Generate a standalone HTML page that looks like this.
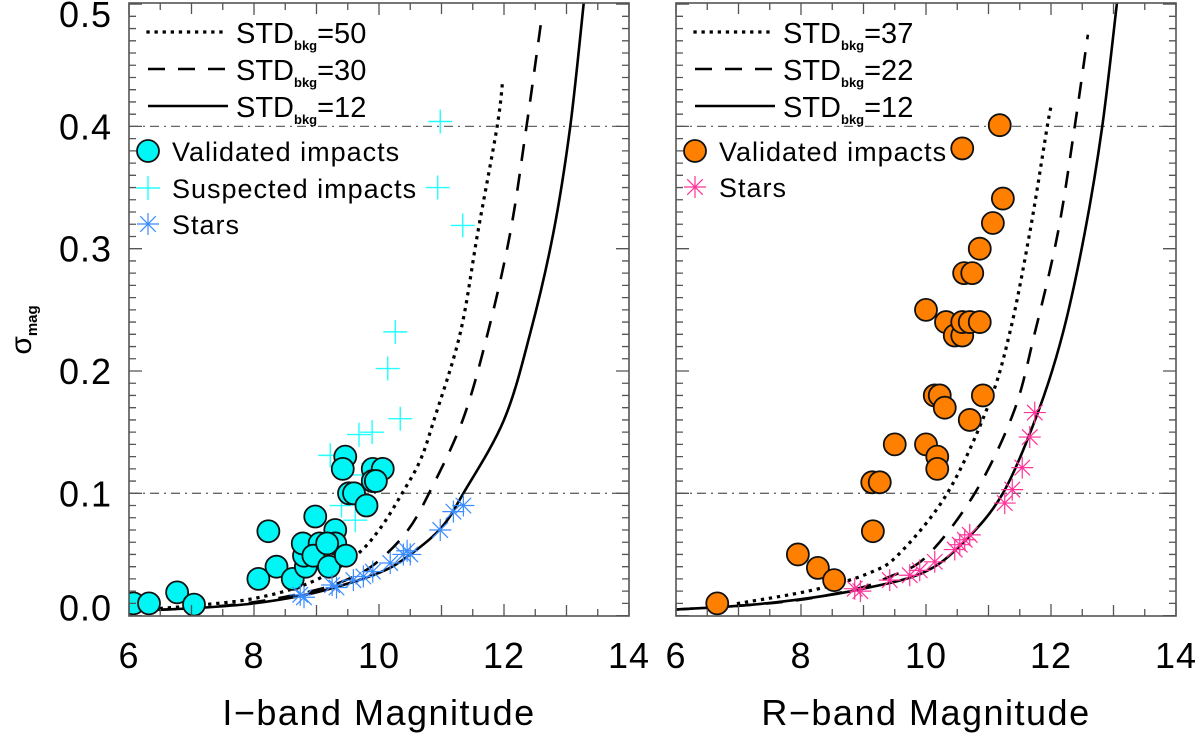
<!DOCTYPE html>
<html><head><meta charset="utf-8">
<style>
html,body{margin:0;padding:0;background:#fff;}
svg{display:block;font-family:"Liberation Sans",sans-serif;}
</style></head>
<body>
<svg id="chart" width="1200" height="734" viewBox="0 0 1200 734" xmlns="http://www.w3.org/2000/svg">
<g id="root"></g>
</svg>
<script>
// ---------------- data ----------------
const xTicks = [6, 8, 10, 12, 14];
const yTicks = [0.0, 0.1, 0.2, 0.3, 0.4, 0.5];
const yTickLabels = ["0.0", "0.1", "0.2", "0.3", "0.4", "0.5"];
const refLevels = [0.1, 0.4];

// left panel (I-band) model curves
const solidL_m = [6, 7, 8, 9, 10, 10.5, 11, 11.35, 12, 12.42, 12.79, 13.06, 13.28];
const solidL_s = [0.004, 0.006, 0.010, 0.019, 0.035, 0.050, 0.072, 0.100, 0.160, 0.231, 0.313, 0.400, 0.503];
const dashedL_m = [6, 7, 8, 9, 9.6, 10, 10.45, 10.8, 11.34, 11.74, 12.1, 12.36, 12.59];
const dashedL_s = [0.004, 0.006, 0.011, 0.021, 0.032, 0.045, 0.069, 0.100, 0.160, 0.231, 0.313, 0.400, 0.484];
const dottedL_m = [6, 7, 8, 8.9, 9.6, 10, 10.37, 10.66, 10.88, 11.3, 11.58, 11.89, 11.98];
const dottedL_s = [0.004, 0.008, 0.014, 0.027, 0.048, 0.070, 0.100, 0.127, 0.160, 0.231, 0.313, 0.400, 0.438];

// right panel (R-band) model curves
const solidR_m = [6, 7, 7.94, 8.9, 9.95, 10.6, 11.23, 11.79, 12.19, 12.54, 12.82, 13.06];
const solidR_s = [0.005, 0.008, 0.013, 0.021, 0.035, 0.060, 0.100, 0.166, 0.231, 0.313, 0.400, 0.503];
const dashedR_m = [6, 7, 8, 8.9, 9.38, 10, 10.78, 11.4, 11.74, 12.11, 12.38, 12.59];
const dashedR_s = [0.005, 0.008, 0.013, 0.022, 0.031, 0.048, 0.100, 0.166, 0.231, 0.313, 0.400, 0.475];
const dottedR_m = [7, 8.2, 9.1, 9.58, 10.34, 10.99, 11.34, 11.66, 11.94, 12.0];
const dottedR_s = [0.010, 0.021, 0.035, 0.051, 0.100, 0.171, 0.231, 0.313, 0.400, 0.416];

// left panel points
const validI_m = [6.07, 6.32, 6.77, 7.04, 8.07, 8.36, 8.23, 8.62, 8.83, 8.80, 8.78, 8.98, 9.05, 8.95, 9.20, 9.30, 9.30, 9.47, 9.46, 9.42, 9.52, 9.60, 9.80, 9.90, 10.06, 9.90, 9.95, 9.17];
const validI_s = [0.010, 0.010, 0.019, 0.009, 0.030, 0.040, 0.069, 0.030, 0.040, 0.049, 0.059, 0.081, 0.059, 0.049, 0.040, 0.070, 0.059, 0.049, 0.130, 0.120, 0.100, 0.100, 0.090, 0.120, 0.120, 0.110, 0.110, 0.059];
const suspI_m = [10.26, 10.14, 10.34, 9.89, 9.68, 9.22, 9.62, 9.40, 9.73, 10.98, 10.94, 11.34];
const suspI_s = [0.232, 0.202, 0.161, 0.150, 0.148, 0.131, 0.078, 0.090, 0.115, 0.404, 0.350, 0.319];
const starsI_m = [8.74, 8.80, 9.25, 9.32, 9.59, 9.75, 9.90, 10.18, 10.39, 10.50, 10.45, 10.98, 11.19, 11.35];
const starsI_s = [0.017, 0.015, 0.025, 0.023, 0.029, 0.032, 0.036, 0.043, 0.050, 0.050, 0.053, 0.070, 0.085, 0.090];

// right panel points
const validR_m = [6.66, 7.95, 8.27, 8.53, 9.15, 9.14, 9.26, 9.50, 10.00, 10.18, 10.18, 10.14, 10.22, 10.30, 10.70, 10.91, 10.00, 10.32, 10.46, 10.58, 10.58, 10.70, 10.86, 10.61, 10.74, 10.86, 11.07, 11.23, 10.58, 11.18];
const validR_s = [0.010, 0.050, 0.039, 0.029, 0.069, 0.109, 0.109, 0.140, 0.140, 0.130, 0.120, 0.180, 0.180, 0.170, 0.160, 0.180, 0.250, 0.240, 0.229, 0.229, 0.240, 0.240, 0.240, 0.280, 0.280, 0.300, 0.321, 0.341, 0.382, 0.401];
const starsR_m = [8.86, 8.95, 9.42, 9.74, 9.90, 10.14, 10.46, 10.54, 10.62, 10.70, 11.26, 11.38, 11.54, 11.66, 11.74];
const starsR_s = [0.022, 0.020, 0.029, 0.033, 0.037, 0.044, 0.054, 0.058, 0.062, 0.066, 0.092, 0.103, 0.121, 0.146, 0.166];

// ---------------- drawing ----------------
const NS = "http://www.w3.org/2000/svg";
const root = document.getElementById("root");
const TOP = 3, BOT = 616, Y0 = 615.6, YS = 1223, XS = 62.5;
function yScale(s){ return Y0 - s*YS; }
function mk(tag, parent, attrs){
  const e = document.createElementNS(NS, tag);
  for (const k in attrs) e.setAttribute(k, attrs[k]);
  parent.appendChild(e);
  return e;
}
function smoothPath(pts){
  let d = "M" + pts[0][0].toFixed(2) + "," + pts[0][1].toFixed(2);
  for (let i=0;i<pts.length-1;i++){
    const p0 = pts[Math.max(0,i-1)], p1 = pts[i], p2 = pts[i+1], p3 = pts[Math.min(pts.length-1,i+2)];
    const c1x = p1[0] + (p2[0]-p0[0])/6, c1y = p1[1] + (p2[1]-p0[1])/6;
    const c2x = p2[0] - (p3[0]-p1[0])/6, c2y = p2[1] - (p3[1]-p1[1])/6;
    d += " C" + c1x.toFixed(2)+","+c1y.toFixed(2)+" "+c2x.toFixed(2)+","+c2y.toFixed(2)+" "+p2[0].toFixed(2)+","+p2[1].toFixed(2);
  }
  return d;
}

function panel(id, X0, cfg){
  const xScale = m => X0 + (m-6)*XS;
  const X1 = X0 + 500;
  const g = mk("g", root, {});
  
  
  const clipId = "clip-" + id;
  const defs = mk("defs", g, {});
  const cp = mk("clipPath", defs, {id: clipId});
  mk("rect", cp, {x: X0, y: TOP, width: 500, height: BOT-TOP});

  refLevels.forEach(r => {
    const l = mk("line", g, {x1: X0, x2: X1, y1: yScale(r), y2: yScale(r), stroke: "#666", "stroke-width": 1.3, "stroke-dasharray": "9 5 2 5"});
    
    
  });

  const cg = mk("g", g, {"clip-path": "url(#" + clipId + ")"});
  cfg.curves.forEach(c => {
    const pts = c.m.map((m,i) => [xScale(m), yScale(c.s[i])]);
    const p = mk("path", cg, {d: smoothPath(pts), fill: "none", stroke: "#000", "stroke-width": c.w, "stroke-dasharray": c.dash, "stroke-linecap": c.cap});
    
    
  });

  const pg = mk("g", g, {"clip-path": "url(#" + clipId + ")"});
  if (cfg.plus){
    cfg.plus.m.forEach((m,i) => {
      const x = xScale(m), y = yScale(cfg.plus.s[i]);
      const e = mk("path", pg, {d: `M${x-12},${y}H${x+12}M${x},${y-12}V${y+12}`, stroke: "#22ffff", "stroke-width": 1.4, fill: "none"});
      
      
    });
  }
  cfg.circles.m.forEach((m,i) => {
    const e = mk("circle", pg, {cx: xScale(m), cy: yScale(cfg.circles.s[i]), r: 11, fill: cfg.circleColor, stroke: "#111", "stroke-width": 1.8});
    
    
  });
  cfg.stars.m.forEach((m,i) => {
    const x = xScale(m), y = yScale(cfg.stars.s[i]), r = 11, d = r*0.707;
    const e = mk("path", pg, {d: `M${x-r},${y}H${x+r}M${x},${y-r}V${y+r}M${x-d},${y-d}L${x+d},${y+d}M${x-d},${y+d}L${x+d},${y-d}`, stroke: cfg.starColor, "stroke-width": 1.2, fill: "none"});
    
    
  });

  const fr = mk("rect", g, {x: X0, y: TOP, width: 500, height: BOT-TOP, fill: "none", stroke: "#555", "stroke-width": 1.6});
  
  

  let td = "";
  for (let k=0;k<=16;k++){
    const x = X0 + k*XS/2, L = (k%4===0)?12:(k%2===0?11:7);
    td += `M${x},${BOT}V${BOT-L}M${x},${TOP}V${TOP+L}`;
  }
  for (let k=0;k<=50;k++){
    const y = yScale(k*0.01), L = (k%10===0)?13:7;
    if (y < TOP-0.5) continue;
    td += `M${X0},${y}H${X0+L}M${X1},${y}H${X1-L}`;
  }
  const tk = mk("path", g, {d: td, stroke: "#555", "stroke-width": 1.3, fill: "none"});
  
  

  xTicks.forEach(v => {
    const t = mk("text", g, {x: xScale(v), y: 668, "font-size": 36, "text-anchor": "middle", fill: "#000", "letter-spacing": 1});
    t.textContent = v;
    
    
  });
  const xt = mk("text", g, {x: X0 + 250, y: 725, "font-size": 36, "text-anchor": "middle", fill: "#000", "letter-spacing": 1.5});
  xt.textContent = cfg.xtitle;
  
  

  const lg = mk("g", g, {});
  
  
  const lx = X0 + 19;
  cfg.legendLines.forEach((ll,i) => {
    const y = 32 + i*37;
    mk("line", lg, {x1: lx, x2: lx+80, y1: y, y2: y, stroke: "#000", "stroke-width": ll.w, "stroke-dasharray": ll.dash, "stroke-linecap": ll.cap});
    const t = mk("text", lg, {x: lx+88, y: y+11, "font-size": 29, fill: "#000"});
    t.innerHTML = 'STD<tspan font-size="13" font-weight="bold" dy="7">bkg</tspan><tspan dy="-7">=' + ll.val + '</tspan>';
    
    
  });
  let ly = 151;
  mk("circle", lg, {cx: lx, cy: ly, r: 11, fill: cfg.circleColor, stroke: "#111", "stroke-width": 1.8});
  let t = mk("text", lg, {x: lx+24, y: ly+10, "font-size": 27, fill: "#000", "letter-spacing": 1});
  t.textContent = "Validated impacts";
  
  
  if (cfg.plus){
    ly += 37;
    mk("path", lg, {d: `M${lx-12},${ly}H${lx+12}M${lx},${ly-12}V${ly+12}`, stroke: "#22ffff", "stroke-width": 1.4});
    t = mk("text", lg, {x: lx+24, y: ly+10, "font-size": 27, fill: "#000", "letter-spacing": 1});
    t.textContent = "Suspected impacts";
    
    
  }
  ly += 36;
  const r = 11, dd = r*0.707;
  mk("path", lg, {d: `M${lx-r},${ly}H${lx+r}M${lx},${ly-r}V${ly+r}M${lx-dd},${ly-dd}L${lx+dd},${ly+dd}M${lx-dd},${ly+dd}L${lx+dd},${ly-dd}`, stroke: cfg.starColor, "stroke-width": 1.2, fill: "none"});
  t = mk("text", lg, {x: lx+24, y: ly+10, "font-size": 27, fill: "#000", "letter-spacing": 1});
  t.textContent = "Stars";
  
  
}

const DOT = "0.1 8", DASH = "17 13";
panel("i-band", 129, {
  xtitle: "I\u2212band Magnitude",
  circleColor: "#00f5f5", starColor: "#3a8cff",
  curves: [
    {name: "curve-std-12", m: solidL_m, s: solidL_s, dash: "none", cap: "butt", w: 2.6},
    {name: "curve-std-30", m: dashedL_m, s: dashedL_s, dash: DASH, cap: "butt", w: 2.6},
    {name: "curve-std-50", m: dottedL_m, s: dottedL_s, dash: DOT, cap: "square", w: 3.2}
  ],
  circles: {m: validI_m, s: validI_s},
  plus: {m: suspI_m, s: suspI_s},
  stars: {m: starsI_m, s: starsI_s},
  legendLines: [{val: 50, dash: DOT, cap: "square", w: 3.2}, {val: 30, dash: DASH, cap: "butt", w: 2.6}, {val: 12, dash: "none", cap: "butt", w: 2.6}]
});
panel("r-band", 676, {
  xtitle: "R\u2212band Magnitude",
  circleColor: "#ff8000", starColor: "#ff3399",
  curves: [
    {name: "curve-std-12", m: solidR_m, s: solidR_s, dash: "none", cap: "butt", w: 2.6},
    {name: "curve-std-22", m: dashedR_m, s: dashedR_s, dash: DASH, cap: "butt", w: 2.6},
    {name: "curve-std-37", m: dottedR_m, s: dottedR_s, dash: DOT, cap: "square", w: 3.2}
  ],
  circles: {m: validR_m, s: validR_s},
  plus: null,
  stars: {m: starsR_m, s: starsR_s},
  legendLines: [{val: 37, dash: DOT, cap: "square", w: 3.2}, {val: 22, dash: DASH, cap: "butt", w: 2.6}, {val: 12, dash: "none", cap: "butt", w: 2.6}]
});

yTicks.forEach((v,i) => {
  const t = mk("text", root, {x: 112, y: yScale(v) + 13 + (i===0 ? -8 : 0) + (i===5 ? 10 : 0), "font-size": 36, "text-anchor": "end", fill: "#000", "letter-spacing": 1});
  t.textContent = yTickLabels[i];
  
  
});
const yt = mk("text", root, {x: 0, y: 0, "font-size": 30, fill: "#000", transform: "translate(31,330) rotate(-90)", "text-anchor": "middle"});
yt.innerHTML = 'σ<tspan font-size="15" font-weight="bold" dy="6">mag</tspan>';


</script>
</body></html>
